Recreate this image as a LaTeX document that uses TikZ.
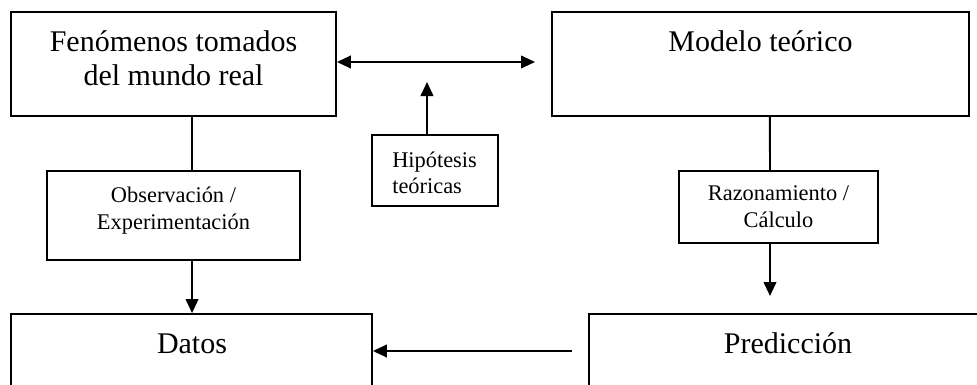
\documentclass[tikz,border=0pt]{standalone}
\usepackage{fontspec}
\setmainfont{Liberation Serif}
\usetikzlibrary{arrows.meta}
\begin{document}
\begin{tikzpicture}[x=0.75pt,y=-0.75pt,
  box/.style={draw, line width=1.4pt, inner sep=0pt},
  bigtxt/.style={font=\fontsize{22.5pt}{24.75pt}\selectfont, align=center, inner sep=0pt, anchor=base},
  smalltxt/.style={font=\fontsize{16.8pt}{20.25pt}\selectfont, align=center, inner sep=0pt, anchor=base},
  conn/.style={line width=1.4pt},
  arr/.style={line width=1.4pt, -{Triangle[length=10.5pt,width=9.5pt]}},
  darr/.style={line width=1.4pt, {Triangle[length=10.5pt,width=9.5pt]}-{Triangle[length=10.5pt,width=9.5pt]}}]
\useasboundingbox (0,0) rectangle (977,385);
\clip (0,0) rectangle (977,385);
% boxes
\node[box, minimum width=243.75pt, minimum height=78pt] (A) at (173.5,64) {};
\node[box, minimum width=312.75pt, minimum height=78pt] (B) at (760.5,64) {};
\node[box, minimum width=94.5pt, minimum height=53.25pt] (H) at (435,170.5) {};
\node[box, minimum width=189.75pt, minimum height=66.75pt] (O) at (173.5,215.5) {};
\node[box, minimum width=149.25pt, minimum height=54pt] (R) at (778.5,207) {};
\node[box, minimum width=270.75pt, minimum height=90pt] (D) at (191.5,374) {};
\node[box, minimum width=300pt, minimum height=90pt] (P) at (789,374) {};
% texts
\node[bigtxt] (tA) at (173.5,85) {Fenómenos tomados\\del mundo real};
\node[bigtxt] (tB) at (760.5,52) {Modelo teórico};
\node[bigtxt] (tD) at (192,353) {Datos};
\node[bigtxt] (tP) at (788,353) {Predicción};
\node[smalltxt, align=left, anchor=base west, font=\fontsize{16.8pt}{19.5pt}\selectfont] (tH) at (392,193) {Hipótesis\\teóricas};
\node[smalltxt] (tO) at (173.5,229) {Observación /\\Experimentación};
\node[smalltxt] (tR) at (778.5,227) {Razonamiento /\\Cálculo};
% free ends
\coordinate (bR) at (535,62);
\coordinate (hT) at (427,82);
\coordinate (rT) at (770,296);
\coordinate (pS) at (572,351);
% connectors
\draw[darr] ([yshift=1.5pt]A.east) -- (bR);
\draw[arr] ([xshift=-6pt]H.north) -- (hT);
\draw[conn] ([xshift=13.9pt]A.south) -- ([xshift=13.9pt]O.north);
\draw[arr] ([xshift=13.9pt]O.south) coordinate (oS) -- (oS |- D.north);
\draw[conn] ([xshift=7pt]B.south) -- ([xshift=-6.4pt]R.north);
\draw[arr] ([xshift=-6.4pt]R.south) -- (rT);
\draw[arr] (pS) -- (pS -| D.east);
\end{tikzpicture}
\end{document}
